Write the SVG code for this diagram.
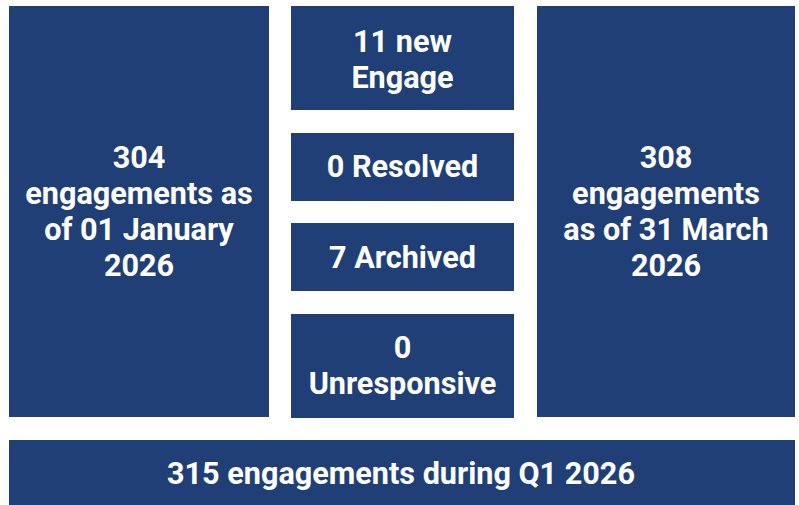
<svg xmlns="http://www.w3.org/2000/svg" width="799" height="505" viewBox="0 0 799 505">
  <style>
    .box { fill: #203F77; }
    .lbl { fill: #ffffff; font-family: Roboto, "Liberation Sans", sans-serif; font-weight: bold; font-size: 30.6px; text-anchor: middle; }
  </style>
  <rect width="799" height="505" fill="#ffffff"/>
  <g id="start">
    <rect class="box" x="9" y="6" width="260" height="411"/>
    <text class="lbl" x="139" y="168">304</text>
    <text class="lbl" x="139" y="204">engagements as</text>
    <text class="lbl" x="139" y="240">of 01 January</text>
    <text class="lbl" x="139" y="276">2026</text>
  </g>
  <g id="new">
    <rect class="box" x="291" y="6" width="223" height="104"/>
    <text class="lbl" x="402.5" y="52">11 new</text>
    <text class="lbl" x="402.5" y="88">Engage</text>
  </g>
  <g id="resolved">
    <rect class="box" x="291" y="133" width="223" height="68"/>
    <text class="lbl" x="402.5" y="177">0 Resolved</text>
  </g>
  <g id="archived">
    <rect class="box" x="291" y="223" width="223" height="68"/>
    <text class="lbl" x="402.5" y="268">7 Archived</text>
  </g>
  <g id="unresponsive">
    <rect class="box" x="291" y="314" width="223" height="104"/>
    <text class="lbl" x="402.5" y="358">0</text>
    <text class="lbl" x="402.5" y="394">Unresponsive</text>
  </g>
  <g id="end">
    <rect class="box" x="537" y="6" width="258" height="411"/>
    <text class="lbl" x="666" y="168">308</text>
    <text class="lbl" x="666" y="204">engagements</text>
    <text class="lbl" x="666" y="240">as of 31 March</text>
    <text class="lbl" x="666" y="276">2026</text>
  </g>
  <g id="total">
    <rect class="box" x="9" y="440" width="786" height="65"/>
    <text class="lbl" x="401" y="484">315 engagements during Q1 2026</text>
  </g>
  <g id="connectors"/>
</svg>
